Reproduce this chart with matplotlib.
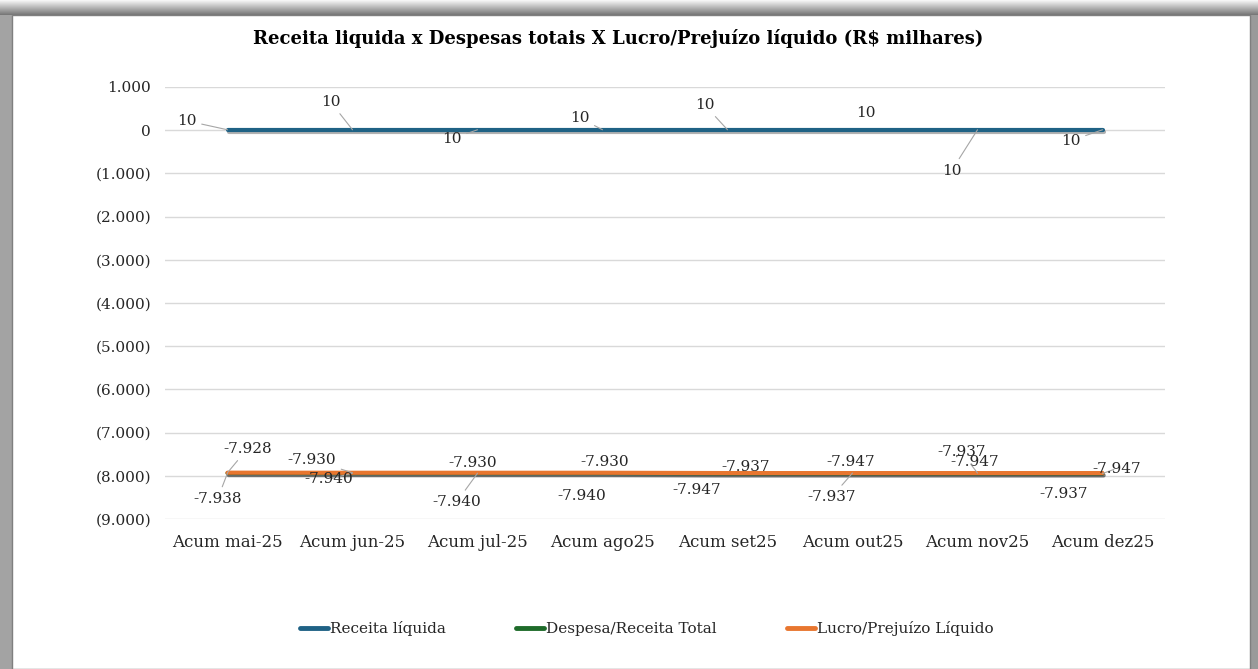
import matplotlib
matplotlib.use('Agg')
import matplotlib.pyplot as plt
import matplotlib.patheffects as pe
from matplotlib.patches import Rectangle
from matplotlib.ticker import FuncFormatter
import numpy as np

categories = ['Acum mai-25', 'Acum jun-25', 'Acum jul-25', 'Acum ago25',
              'Acum set25', 'Acum out25', 'Acum nov25', 'Acum dez25']
receita = [10, 10, 10, 10, 10, 10, 10, 10]
despesa = [-7938, -7940, -7940, -7940, -7947, -7947, -7947, -7947]
lucro = [-7928, -7930, -7930, -7930, -7937, -7937, -7937, -7937]

# label offsets in pixels (dx, dy)
off_receita = [(-41, 9), (-22, 28), (-26, -9), (-23, 12), (-23, 25), (13, 17), (-26, -41), (-32, -11)]
off_despesa = [(-10, -26), (-24, -6), (-21, -29), (-21, -23), (-31, -16), (-2, 12), (-3, 12), (14, 5)]
off_lucro = [(20, 24), (-41, 13), (-5, 10), (2, 11), (18, 6), (-21, -24), (-16, 21), (-39, -21)]
leader_receita = [True, True, True, True, True, False, True, True]
leader_despesa = [True, True, True, False, False, False, False, True]
leader_lucro = [True, True, False, False, False, True, True, False]

blue = '#1f6285'
green = '#1e6b2a'
orange = '#e8762f'
font = 'DejaVu Serif'


def fmt_y(v, pos):
    if v == 0:
        return '0'
    s = '{:,.0f}'.format(abs(v)).replace(',', '.')
    return '(' + s + ')' if v < 0 else s


def fmt_lbl(v):
    s = '{:,.0f}'.format(abs(v)).replace(',', '.')
    return '-' + s if v < 0 else s


fig = plt.figure(figsize=(12.58, 6.69), dpi=100)
fig.patch.set_facecolor('white')

# outer frame like the excel chart border
W, H = 1258.0, 669.0
fig.patches.append(Rectangle((0, 0), 12 / W, 1, transform=fig.transFigure,
                             facecolor='#a3a3a3', edgecolor='none', zorder=-2))
fig.patches.append(Rectangle((1250 / W, 0), 8 / W, 1, transform=fig.transFigure,
                             facecolor='#9a9a9a', edgecolor='none', zorder=-2))
for i in range(15):
    c = 0.96 - 0.035 * i
    fig.patches.append(Rectangle((0, 1 - (i + 1) / H), 1, 1 / H, transform=fig.transFigure,
                                 facecolor=(c, c, c), edgecolor='none', zorder=-2))
fig.patches.append(Rectangle((12 / W, 0), 1238 / W, 1 - 15 / H, transform=fig.transFigure,
                             facecolor='white', edgecolor='#7f7f7f', linewidth=1, zorder=-1))

ax = fig.add_axes([165 / W, 1 - 519 / H, 1000 / W, 432 / H])
ax.set_zorder(2)
ax.set_facecolor('none')
x = np.arange(len(categories))

shadow = [pe.SimpleLineShadow(offset=(0.8, -1.5), shadow_color='black', alpha=0.3), pe.Normal()]
ax.plot(x, receita, color=blue, lw=3, solid_capstyle='round', path_effects=shadow, zorder=3, label='Receita líquida')
ax.plot(x, despesa, color=green, lw=3, solid_capstyle='round', path_effects=shadow, zorder=3, label='Despesa/Receita Total')
ax.plot(x, lucro, color=orange, lw=3, solid_capstyle='round', path_effects=shadow, zorder=4, label='Lucro/Prejuízo Líquido')

ax.set_xlim(-0.5, len(categories) - 0.5)
ax.set_ylim(-9000, 1000)
ax.set_yticks(np.arange(-9000, 1001, 1000))
ax.yaxis.set_major_formatter(FuncFormatter(fmt_y))
ax.set_xticks(x)
ax.set_xticklabels(categories)
ax.grid(axis='y', color='#d9d9d9', lw=1)
ax.set_axisbelow(True)
for s in ax.spines.values():
    s.set_visible(False)
ax.tick_params(axis='y', length=0, labelsize=11, labelcolor='#262626', pad=10)
ax.tick_params(axis='x', length=0, labelsize=12, labelcolor='#262626', pad=11)
for t in ax.get_xticklabels() + ax.get_yticklabels():
    t.set_fontfamily(font)


def label(xi, yi, text, dx, dy, leader):
    arrow = dict(arrowstyle='-', color='#a6a6a6', lw=0.8, shrinkA=2, shrinkB=0) if leader else None
    ax.annotate(text, (xi, yi), xytext=(dx * 0.72, dy * 0.72), textcoords='offset points',
                ha='center', va='center', fontsize=11, family=font, color='#262626',
                arrowprops=arrow, zorder=6)


for i in x:
    label(i, receita[i], fmt_lbl(receita[i]), *off_receita[i], leader_receita[i])
    label(i, despesa[i], fmt_lbl(despesa[i]), *off_despesa[i], leader_despesa[i])
    label(i, lucro[i], fmt_lbl(lucro[i]), *off_lucro[i], leader_lucro[i])

fig.text(618 / W, 1 - 38 / H, 'Receita liquida x Despesas totais X Lucro/Prejuízo líquido (R$ milhares)',
         ha='center', va='center', fontsize=13, fontweight='bold', family=font, color='black')

leg = fig.legend(loc='center', bbox_to_anchor=(647 / W, 1 - 629 / H), ncol=3, frameon=False,
                 prop={'family': font, 'size': 11}, handlelength=1.8, handletextpad=0.15,
                 columnspacing=4.6)
for h in leg.get_lines():
    h.set_linewidth(3.5)
    h.set_path_effects([])
for t in leg.get_texts():
    t.set_color('#262626')

fig.savefig('out.png', dpi=100)
